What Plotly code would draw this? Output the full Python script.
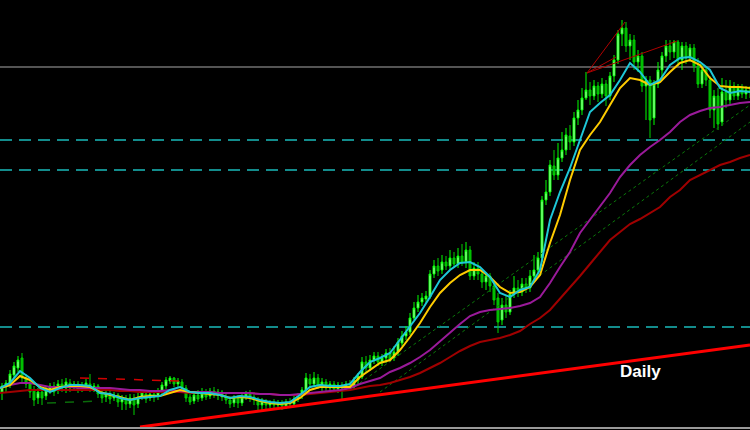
import plotly.graph_objects as go

# ---- candle data (price units, arbitrary scale) ----
opens = [38,43,46,55,62,72,52,46,40,32,38,34,40,44,40,46,42,47,44,46,42,45,46,42,44,36,33,36,32,35,28,32,26,
         32,26,33,36,32,36,34,38,44,49,52,46,48,42,33,29,35,32,37,34,39,35,38,33,30,27,32,27,33,36,33,30,25,29,25,28,25,27,24,28,26,31,
         34,40,51,46,52,44,48,42,46,41,45,42,46,43,50,53,68,62,70,74,68,72,77,72,78,87,94,98,112,122,128,131,133,156,164,160,168,164,172,166,
         174,168,180,154,162,156,148,154,144,132,110,125,118,136,142,138,146,142,154,160,172,230,238,264,255,272,280,294,288,312,320,332,
         340,334,344,336,346,334,354,370,396,402,384,390,368,374,344,350,312,346,360,374,384,378,388,370,384,372,382,364,346,360,350,320,334,308,338,330,344,334,342,336,340]
highs = [47,50,60,68,74,77,56,50,44,42,41,44,47,48,50,51,52,51,49,49,48,51,56,47,46,40,40,39,38,37,35,35,36,
         36,37,40,39,39,39,42,48,53,54,53,52,51,45,37,39,40,42,41,42,43,41,40,37,34,35,35,36,39,40,37,33,32,31,30,31,30,30,31,32,34,37,
         43,57,56,58,56,52,51,49,49,48,48,49,50,53,57,73,74,75,78,78,76,81,82,84,92,99,104,117,128,135,137,139,160,170,172,175,174,180,178,182,
         186,188,184,168,168,160,158,157,148,137,132,134,140,154,150,152,152,160,175,178,234,250,270,280,287,298,302,305,318,330,342,358,
         348,350,348,352,350,358,375,400,410,408,396,395,380,378,354,354,350,368,378,390,390,390,390,388,388,386,386,372,366,364,354,340,342,352,350,350,348,346,346,344,344]
lows = [30,38,42,52,58,48,42,32,24,26,25,30,36,34,36,38,37,38,39,37,38,40,38,38,32,27,28,26,29,23,20,20,22,
        15,22,30,27,29,28,30,35,41,46,43,42,39,28,25,26,28,29,30,31,32,30,29,26,22,23,22,24,30,28,25,20,20,21,22,22,21,20,21,22,24,28,
        31,38,42,44,41,39,38,37,38,37,30,39,40,40,46,51,58,59,66,64,64,67,68,69,74,84,90,95,110,118,124,127,131,152,154,156,160,160,162,162,
        164,162,150,150,150,142,140,138,125,97,105,112,115,132,133,134,137,138,148,155,168,225,234,250,250,268,275,280,284,305,315,330,
        325,330,328,332,324,330,348,366,384,378,370,360,358,338,310,292,305,342,352,368,370,372,364,360,366,368,358,342,342,344,312,302,300,304,322,326,330,330,332,331,332]
closes = [44,47,56,64,70,52,46,38,30,38,32,40,44,38,46,42,48,42,46,41,45,47,42,44,36,32,36,31,35,28,32,26,32,
          25,33,37,31,36,33,38,45,50,52,46,49,42,32,28,35,31,37,33,39,35,38,33,30,26,32,27,33,36,33,30,25,29,25,28,25,27,24,28,26,31,34,
          40,52,46,52,44,48,42,46,41,45,42,46,43,50,54,68,62,70,74,68,72,77,71,78,88,94,98,112,122,128,132,134,156,164,159,168,164,172,166,174,
          168,180,154,162,156,148,154,144,130,108,125,118,136,142,138,146,142,154,160,172,230,238,265,255,272,280,295,288,312,320,332,340,
          334,344,336,346,334,354,370,396,402,384,390,368,374,344,350,310,346,360,374,384,378,388,370,384,372,382,364,346,360,350,320,334,306,338,330,344,334,342,336,340,338]

# ---- moving averages, sampled every 2.5 bars ----
ma_fast = [42,47,59,52,42,38,42,45,45,44,37,36,32,30,32,33,34,40,43,38,37,37,35,32,34,33,30,28,27,28,
           35,43,45,44,44,46,58,68,72,77,90,103,117,133,150,160,167,168,163,153,137,133,140,143,160,210,238,262,290,318,
           327,335,350,367,358,345,350,365,372,373,368,360,342,337,339,338]
ma_mid = [42,45,54,50,43,40,43,44,44,43,38,35,33,30,33,34,34,37,40,38,37,36,35,32,33,32,29,27,26,27,
          32,40,43,43,43,43,53,60,67,70,80,93,107,123,137,147,155,160,160,153,143,137,138,143,155,187,215,250,280,295,
          308,325,342,352,350,345,348,358,367,370,365,352,344,343,343,342]
ma_slow = [42,45,47,47,45,43,43,43,42,42,42,42,41,40,40,39,39,40,39,38,38,38,37,37,37,37,36,36,35,35,
           36,37,38,39,40,42,46,49,52,58,62,67,73,80,89,97,106,114,118,120,121,122,124,127,133,147,163,178,197,210,
           223,237,253,265,275,283,290,298,308,315,319,322,323,325,327,328]
ma_long = [37,38,39,40,40,40,40,40,40,40,40,40,39,39,38,38,38,38,38,37,37,37,37,37,37,37,36,36,35,35,
           35,36,37,38,39,40,42,44,45,47,50,53,57,62,67,73,79,84,88,90,92,95,99,106,112,120,131,142,154,166,
           178,190,198,206,211,217,223,233,240,250,255,260,265,268,272,275]

# ---- drawn objects ----
dashed_levels = [290, 260, 103]
grey_level = 363
bottom_level = 2
trend_red = [(34.5, 3), (187, 85)]
dotted_red = [(19.5, 52), (44.5, 49)]
dotted_green_short = [(11.25, 27), (24.5, 29)]
green_channel = [[(87, 40), (187, 325)], [(94.5, 38), (187, 308)]]
fan_pivot = (146.25, 357)
fan_ends = [(155.75, 408), (168.75, 389), (153.5, 373)]
label_text = "Daily"
label_pos = (159.5, 59)

bars = list(range(len(closes)))
ma_x = [k * 2.5 - 0.5 for k in range(len(ma_fast))]
x_min, x_max = -0.5, len(closes) - 1
y_min, y_max = 0, 430

fig = go.Figure()

fig.add_trace(go.Candlestick(
    x=bars, open=opens, high=highs, low=lows, close=closes,
    increasing=dict(line=dict(color="#00ff00", width=1), fillcolor="#c8ffc8"),
    decreasing=dict(line=dict(color="#00d000", width=1), fillcolor="#00b000"),
    whiskerwidth=0, hoverinfo="skip", showlegend=False))

# green dotted channel
for seg in green_channel:
    fig.add_trace(go.Scatter(x=[p[0] for p in seg], y=[p[1] for p in seg], mode="lines",
                             line=dict(color="#0a7a0a", width=1, dash="dot"),
                             hoverinfo="skip", showlegend=False))

for vals, col in [(ma_long, "#a00000"), (ma_slow, "#9a1a9a"), (ma_mid, "#ffcc00"), (ma_fast, "#1ec8d8")]:
    fig.add_trace(go.Scatter(x=ma_x[:len(vals)], y=vals, mode="lines",
                             line=dict(color=col, width=2),
                             hoverinfo="skip", showlegend=False))

# short dotted segments
fig.add_trace(go.Scatter(x=[p[0] for p in dotted_red], y=[p[1] for p in dotted_red], mode="lines",
                         line=dict(color="#d00000", width=1.5, dash="dash"), hoverinfo="skip", showlegend=False))
fig.add_trace(go.Scatter(x=[p[0] for p in dotted_green_short], y=[p[1] for p in dotted_green_short], mode="lines",
                         line=dict(color="#0a6a0a", width=1.5, dash="dash"), hoverinfo="skip", showlegend=False))

# fan lines
for end in fan_ends:
    fig.add_trace(go.Scatter(x=[fan_pivot[0], end[0]], y=[fan_pivot[1], end[1]], mode="lines",
                             line=dict(color="#b00000", width=1), hoverinfo="skip", showlegend=False))

# red trend line
fig.add_trace(go.Scatter(x=[p[0] for p in trend_red], y=[p[1] for p in trend_red], mode="lines",
                         line=dict(color="#ff0000", width=3), hoverinfo="skip", showlegend=False))

shapes = []
for lv in dashed_levels:
    shapes.append(dict(type="line", xref="x", yref="y", x0=x_min, x1=x_max, y0=lv, y1=lv,
                       line=dict(color="#138c8c", width=2, dash="12px,7px"), layer="below"))
shapes.append(dict(type="line", xref="x", yref="y", x0=x_min, x1=x_max, y0=grey_level, y1=grey_level,
                   line=dict(color="#a8a8a8", width=1), layer="below"))
shapes.append(dict(type="line", xref="x", yref="y", x0=x_min, x1=x_max, y0=bottom_level, y1=bottom_level,
                   line=dict(color="#9a9a9a", width=2)))

fig.update_layout(
    width=750, height=430,
    margin=dict(l=0, r=0, t=0, b=0),
    paper_bgcolor="#000000", plot_bgcolor="#000000",
    showlegend=False, hovermode=False,
    shapes=shapes,
    xaxis=dict(range=[x_min, x_max], visible=False, showgrid=False, zeroline=False,
               rangeslider=dict(visible=False), fixedrange=True),
    yaxis=dict(range=[y_min, y_max], visible=False, showgrid=False, zeroline=False, fixedrange=True),
    annotations=[dict(x=label_pos[0], y=label_pos[1], xref="x", yref="y", text="<b>" + label_text + "</b>",
                      showarrow=False, font=dict(family="Liberation Sans, Arial", size=17, color="#ffffff"))],
)

fig.write_html("out.html", config={"displayModeBar": False, "staticPlot": True},
               post_script="document.body.style.margin='0';document.body.style.background='#000';")
